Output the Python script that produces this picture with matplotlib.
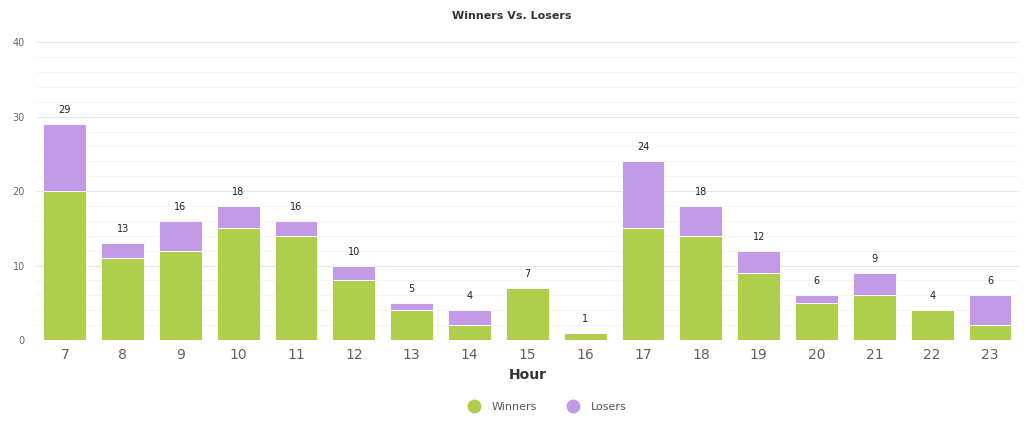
import numpy as np
import matplotlib.pyplot as plt
from matplotlib.lines import Line2D

hours = [7, 8, 9, 10, 11, 12, 13, 14, 15, 16, 17, 18, 19, 20, 21, 22, 23]
winners = [20, 11, 12, 15, 14, 8, 4, 2, 7, 1, 15, 14, 9, 5, 6, 4, 2]
losers = [9, 2, 4, 3, 2, 2, 1, 2, 0, 0, 9, 4, 3, 1, 3, 0, 4]

green = "#afcf4c"
purple = "#c39ae6"

fig = plt.figure(figsize=(10.24, 4.26), dpi=100)
ax = fig.add_axes([0.035, 0.202, 0.96, 0.699])

x = np.arange(len(hours))
w = np.array(winners)
l = np.array(losers)
ax.bar(x, w, width=0.74, color=green, edgecolor="white", linewidth=0.6, zorder=3)
ax.bar(x, l, width=0.74, bottom=w, color=purple, edgecolor="white", linewidth=0.6, zorder=3)

# totals above bars
for xi, t in zip(x, w + l):
    ax.text(xi, t + 1.2, str(t), ha="center", va="bottom", fontsize=7, color="#222222")

ax.set_xlim(-0.5, len(hours) - 0.5)
ax.set_ylim(0, 40)
ax.set_yticks([0, 10, 20, 30, 40])
ax.set_yticks(np.arange(0, 41, 2), minor=True)
ax.grid(axis="y", which="major", color="#e6e6e6", linewidth=0.8, zorder=0)
ax.grid(axis="y", which="minor", color="#f4f4f4", linewidth=0.6, zorder=0)
ax.set_xticks(x)
ax.set_xticklabels([str(h) for h in hours], fontsize=10, color="#606060")
ax.tick_params(axis="y", labelsize=7, colors="#666666", length=0, pad=8)
ax.tick_params(axis="x", length=0, pad=6)
ax.tick_params(which="minor", length=0)
for s in ax.spines.values():
    s.set_visible(False)
ax.axhline(0, color="#e0e0e0", linewidth=0.8, zorder=1)

ax.set_xlabel("Hour", fontsize=10, fontweight="bold", color="#333333", labelpad=4)
fig.suptitle("Winners Vs. Losers", fontsize=8, fontweight="bold", color="#333333", y=0.975)

handles = [Line2D([], [], marker="o", linestyle="", markersize=9, color=green),
           Line2D([], [], marker="o", linestyle="", markersize=9, color=purple)]
fig.legend(handles, ["Winners", "Losers"], loc="center", bbox_to_anchor=(0.532, 0.045),
           ncol=2, frameon=False, fontsize=8, handletextpad=0.6, columnspacing=2.2,
           labelcolor="#555555")

fig.savefig("out.png", dpi=100, facecolor="white")
